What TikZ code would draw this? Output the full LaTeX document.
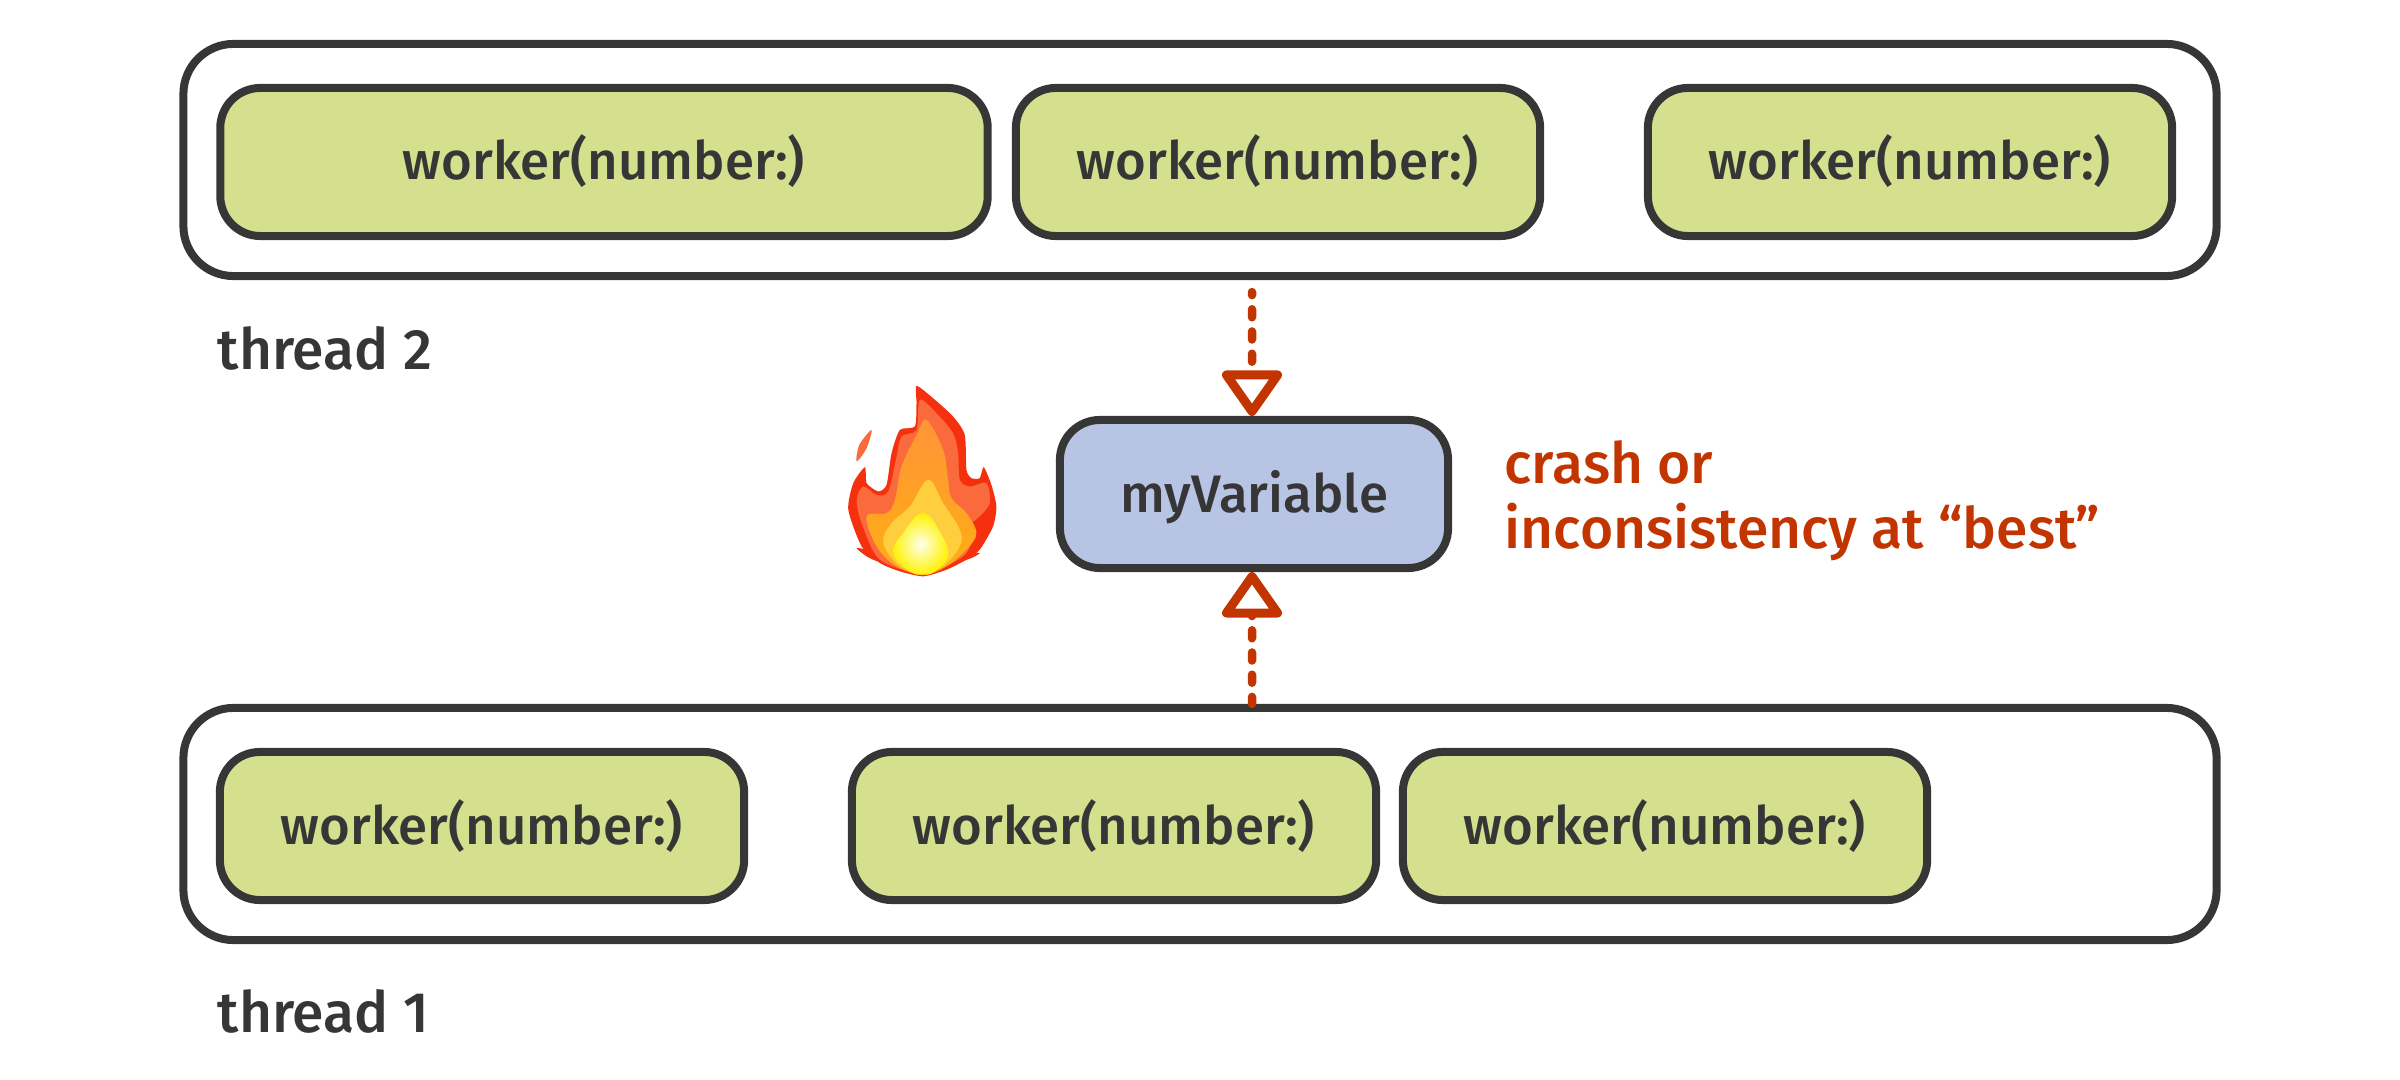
\documentclass[tikz,border=0pt]{standalone}
\usepackage{fontspec}
\setmainfont{Fira Sans Medium}
\usetikzlibrary{arrows.meta}
\definecolor{mdark}{HTML}{363636}
\definecolor{mgreen}{HTML}{D5E08E}
\definecolor{mblue}{HTML}{B8C4E3}
\definecolor{mred}{HTML}{C23500}
\definecolor{flameedge}{HTML}{F5300F}
\definecolor{flamemid}{HTML}{FB6A3C}
\definecolor{flametop}{HTML}{FF9438}
\definecolor{flamelow}{HTML}{FFAE12}
\definecolor{flamegold}{HTML}{FFCE3E}
\tikzset{threadbox/.style = {draw=mdark, line width=0.08cm, rounded corners=0.5cm, minimum width=20.32cm, minimum height=2.32cm},
         workerbox/.style = {draw=mdark, fill=mgreen, line width=0.08cm, rounded corners=0.4cm, minimum width=5.24cm, minimum height=1.48cm, text height=0.46cm, text depth=0.1cm, text=mdark, font=\fontsize{15}{18}\selectfont},
         varbox/.style = {workerbox, fill=mblue, minimum width=3.88cm},
         threadlabel/.style = {anchor=base west, inner sep=0pt, text=mdark, font=\fontsize{16.2}{20}\selectfont},
         access/.style = {mred, line width=0.085cm, line cap=round, dash pattern=on 0.08cm off 0.142cm,
                          -{Triangle[open, round, length=0.49cm, width=0.66cm, line width=0.09cm]}}}

\begin{document}
\begin{tikzpicture}[x=0.01cm, y=-0.01cm]
    \useasboundingbox (0, 0) rectangle (2400, 1080);

    \node [threadbox] (thread2) at (1200, 160) {};
    \node [threadbox] (thread1) at (1200, 824) {};

    \node [workerbox, minimum width=7.67cm] (worker2a) at (604, 162) {worker(number:)};
    \node [workerbox] (worker2b) at (1278, 162) {worker(number:)};
    \node [workerbox] (worker2c) at (1910, 162) {worker(number:)};
    \foreach \name/\xpos in {worker1a/482, worker1b/1114, worker1c/1665}
        \node [workerbox] (\name) at (\xpos, 826) {worker(number:)};

    \node [varbox] (myvar) at (1254, 494) {myVariable};

    \node [threadlabel] (label2) at (217, 370) {thread 2};
    \node [threadlabel] (label1) at (217, 1032) {thread 1};
    \node [anchor=west, inner sep=0pt, align=left, text=mred, font=\fontsize{16.2}{18.6}\selectfont] (note) at (1504, 501) {crash or\\inconsistency at “best”};

    \draw [access, dash phase=0.05cm, shorten <=0.12cm] (thread2.south -| 1252, 0) -- ([xshift=-0.02cm]myvar.north);
    \draw [access, dash phase=0.01cm] (thread1.north -| 1252, 0) -- ([xshift=-0.02cm]myvar.south);

    % flame
    \begin{scope}[shift={(820, 370)}, x=0.00333cm, y=-0.00333cm]
        \fill [flameedge] plot [smooth cycle, tension=0.4] coordinates {(290,48) (340,85) (400,140) (435,195) (440,300) (455,325) (480,325) (492,292) (515,345) (530,410) (520,470) (480,540) (440,570) (380,600) (310,620) (240,605) (180,580) (125,530) (85,420) (100,340) (135,292) (140,340) (175,365) (200,345) (215,250) (240,180) (285,170) (290,100)};
        \fill [flamemid] plot [smooth cycle, tension=0.5] coordinates {(155,180) (140,235) (110,275) (118,225)};
        \fill [flameedge] plot [smooth cycle, tension=0.5] coordinates {(110,535) (150,545) (175,575) (140,560)};
        \fill [flameedge] plot [smooth cycle, tension=0.5] coordinates {(480,550) (440,555) (420,575) (455,565)};
        \fill [flamemid] plot [smooth cycle, tension=0.5] coordinates {(300,90) (350,130) (400,190) (415,250) (420,330) (450,350) (500,340) (510,400) (480,440) (445,470) (465,490) (430,560) (310,610) (180,570) (125,460) (110,390) (130,350) (170,375) (205,365) (230,260) (245,200) (290,180)};
        \shade [top color=flametop, bottom color=flamelow] plot [smooth cycle, tension=0.6] coordinates {(320,150) (370,240) (385,330) (395,385) (440,430) (470,490) (440,540) (380,590) (310,615) (230,590) (170,530) (140,440) (200,430) (225,390) (245,290) (290,195)};
        \fill [flamegold] plot [smooth cycle, tension=0.6] coordinates {(325,330) (370,400) (420,480) (420,530) (370,590) (310,610) (240,590) (190,520) (215,460) (270,410)};
        \shade [inner color=yellow!8!white, middle color=yellow!25!white, outer color=yellow!90!orange] plot [smooth cycle, tension=0.7] coordinates {(310,430) (365,495) (385,560) (345,605) (310,615) (270,605) (220,550) (250,490)};
    \end{scope}
\end{tikzpicture}
\end{document}
